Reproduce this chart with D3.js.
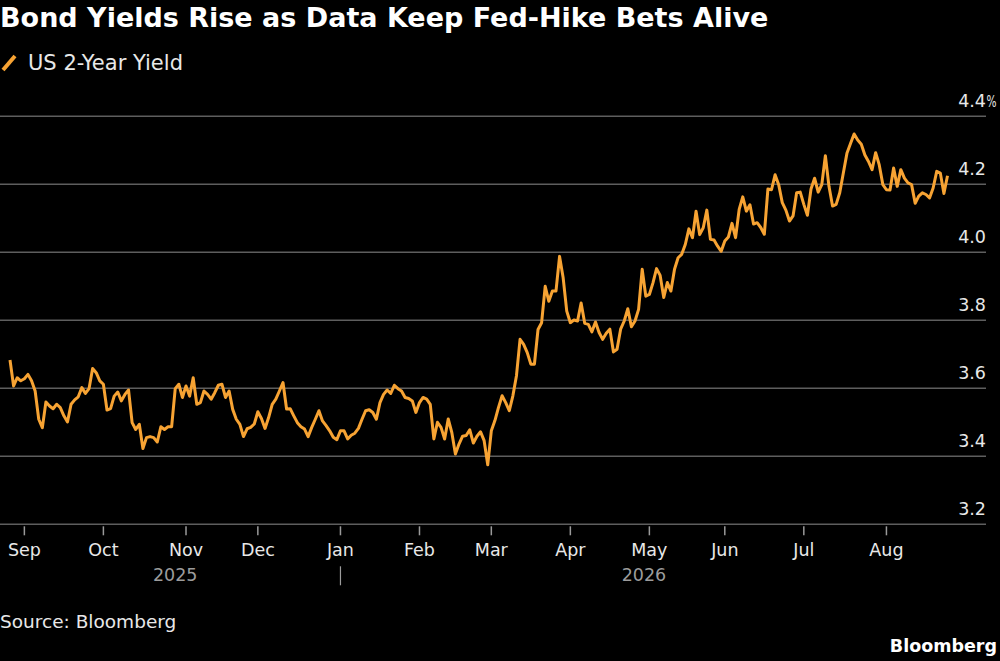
<!DOCTYPE html>
<html>
<head>
<meta charset="utf-8">
<script src="https://cdn.jsdelivr.net/npm/d3@7"></script>
<style>
  body { margin: 0; background: #000; }
  text { font-family: "DejaVu Sans", sans-serif; }
</style>
</head>
<body>
<div id="chart"></div>
<script>
// Chart text
const title = "Bond Yields Rise as Data Keep Fed-Hike Bets Alive";
const seriesName = "US 2-Year Yield";
const source = "Source: Bloomberg";

// Date range of the series (one reading per business day)
const startDate = new Date(2025, 7, 26);
const endDate = new Date(2026, 7, 26);

// Y-axis ticks (percent)
const yTicks = [3.2, 3.4, 3.6, 3.8, 4.0, 4.2, 4.4];

// US 2-year yield
const yields = [
    3.683, 3.607, 3.631, 3.622, 3.628, 3.641, 3.622, 3.592, 3.509, 3.484,
    3.560, 3.548, 3.540, 3.553, 3.543, 3.519, 3.501, 3.553, 3.566, 3.575,
    3.602, 3.585, 3.599, 3.658, 3.646, 3.622, 3.612, 3.536, 3.540, 3.577,
    3.589, 3.563, 3.582, 3.595, 3.499, 3.479, 3.494, 3.423, 3.455, 3.458,
    3.455, 3.442, 3.487, 3.479, 3.487, 3.487, 3.599, 3.612, 3.573, 3.607,
    3.577, 3.631, 3.553, 3.558, 3.592, 3.582, 3.568, 3.587, 3.609, 3.612,
    3.573, 3.592, 3.538, 3.509, 3.494, 3.458, 3.481,
    3.485, 3.495, 3.531, 3.511, 3.482, 3.514, 3.553, 3.568, 3.592, 3.617,
    3.539, 3.540, 3.519, 3.499, 3.487, 3.480, 3.458, 3.485, 3.509, 3.534,
    3.504, 3.490, 3.475, 3.456, 3.449, 3.475, 3.475, 3.451, 3.462, 3.468,
    3.482, 3.509, 3.534, 3.537, 3.529, 3.509, 3.558, 3.582, 3.595, 3.585,
    3.609, 3.599, 3.592, 3.573, 3.570, 3.563, 3.529, 3.558,
    3.573, 3.568, 3.553, 3.451, 3.500, 3.485, 3.451, 3.510, 3.470, 3.407,
    3.436, 3.459, 3.461, 3.478, 3.439, 3.459, 3.472, 3.446, 3.375, 3.475,
    3.505, 3.544, 3.578, 3.558, 3.534, 3.578, 3.637, 3.744, 3.729, 3.705,
    3.671, 3.671, 3.773, 3.793, 3.900, 3.856, 3.886, 3.886, 3.988, 3.925,
    3.827, 3.793, 3.801, 3.798, 3.851,
    3.791, 3.788, 3.766, 3.795, 3.764, 3.744, 3.762, 3.774, 3.707, 3.715,
    3.774, 3.798, 3.834, 3.781, 3.798, 3.832, 3.950, 3.871, 3.876, 3.910,
    3.952, 3.932, 3.867, 3.911, 3.886, 3.950, 3.984, 3.994, 4.023, 4.069,
    4.043, 4.121, 4.052, 4.072, 4.124, 4.038, 4.036, 4.018, 4.003, 4.033,
    4.045, 4.085, 4.043, 4.126, 4.163, 4.121, 4.140,
    4.083, 4.087, 4.073, 4.053, 4.186, 4.184, 4.228, 4.199, 4.146, 4.124,
    4.092, 4.107, 4.175, 4.177, 4.141, 4.109, 4.186, 4.218, 4.177, 4.199,
    4.284, 4.194, 4.136, 4.141, 4.175, 4.233, 4.291, 4.320, 4.348, 4.330,
    4.318, 4.286, 4.267, 4.243, 4.293, 4.257, 4.199, 4.184, 4.183, 4.248,
    4.194, 4.243, 4.218, 4.204, 4.199, 4.144, 4.165, 4.175, 4.170, 4.160,
    4.189, 4.238, 4.233, 4.173, 4.225
];

// Business days between start and end, paired with the readings
const dates = d3.timeDay.range(startDate, d3.timeDay.offset(endDate, 1))
    .filter(d => d.getDay() !== 0 && d.getDay() !== 6);
const data = yields.map((v, i) => ({ index: i, date: dates[i], value: v }));

// Dimensions
let width = 1000, height = 661;
let margin = { top: 116, bottom: 137, left: 10, right: 52 };
const lineColor = "#f7a333";
const gridRight = 986;

// Create the SVG container
let svg = d3.select('#chart')
    .append('svg')
    .attr('width', width)
    .attr('height', height)
    .style('background', '#000');

// Scales: x runs over trading days, evenly spaced
const xScale = d3.scaleLinear()
    .domain([0, dates.length - 1])
    .range([margin.left, width - margin.right - 0.5]);

const yScale = d3.scaleLinear()
    .domain([3.2, 4.4])
    .range([height - margin.bottom + 0.3, margin.top + 0.3]);

// position of a calendar date = first trading day on or after it
const dateX = d => xScale(d3.bisectLeft(dates, d));

// Title
const titleText = svg.append('text')
    .attr('x', 0)
    .attr('y', 27)
    .attr('fill', '#fff')
    .style('font-size', '27px')
    .style('font-weight', 'bold')
    .text(title);
if (titleText.node().getComputedTextLength() > 770) {
    titleText.attr('textLength', 770).attr('lengthAdjust', 'spacingAndGlyphs');
}

// Legend
svg.append('line')
    .attr('x1', 3).attr('y1', 70)
    .attr('x2', 15).attr('y2', 56)
    .attr('stroke', lineColor)
    .attr('stroke-width', 4);

svg.append('text')
    .attr('x', 28)
    .attr('y', 70)
    .attr('fill', '#e8e8e8')
    .style('font-size', '21px')
    .text(seriesName);

// Horizontal grid lines and y labels
svg.append('g')
    .selectAll('line')
    .data(yTicks)
    .enter()
    .append('line')
    .attr('x1', 0)
    .attr('x2', gridRight)
    .attr('y1', d => yScale(d))
    .attr('y2', d => yScale(d))
    .attr('stroke', '#5e5e5e')
    .attr('stroke-width', 1.5);

svg.append('g')
    .selectAll('text')
    .data(yTicks)
    .enter()
    .append('text')
    .attr('x', gridRight)
    .attr('y', d => yScale(d) - 9.5)
    .attr('text-anchor', 'end')
    .attr('fill', '#e8e8e8')
    .style('font-size', '17.5px')
    .text(d => d3.format('.1f')(d));

// Percent sign on the top label
svg.append('text')
    .attr('x', gridRight + 0.5)
    .attr('y', yScale(d3.max(yTicks)) - 9.5)
    .attr('fill', '#e8e8e8')
    .style('font-size', '16px')
    .attr('textLength', 10)
    .attr('lengthAdjust', 'spacingAndGlyphs')
    .text('%');

// Month ticks and labels
const months = d3.timeMonth.range(d3.timeMonth.ceil(startDate), endDate);
const baseY = yScale(3.2);

svg.append('g')
    .selectAll('line')
    .data(months)
    .enter()
    .append('line')
    .attr('x1', d => dateX(d))
    .attr('x2', d => dateX(d))
    .attr('y1', baseY + 2)
    .attr('y2', baseY + 11)
    .attr('stroke', '#9a9a9a')
    .attr('stroke-width', 1.5);

svg.append('g')
    .selectAll('text')
    .data(months)
    .enter()
    .append('text')
    .attr('x', d => dateX(d))
    .attr('y', baseY + 32)
    .attr('text-anchor', 'middle')
    .attr('fill', '#e8e8e8')
    .style('font-size', '17.5px')
    .text(d => d3.timeFormat('%b')(d));

// Year labels centred on the visible part of each year
const newYear = new Date(2026, 0, 1);
const years = [
    { label: '2025', from: xScale(0), to: dateX(newYear) },
    { label: '2026', from: dateX(newYear), to: xScale(dates.length - 1) }
];

svg.append('g')
    .selectAll('text')
    .data(years)
    .enter()
    .append('text')
    .attr('x', d => (d.from + d.to) / 2)
    .attr('y', baseY + 57)
    .attr('text-anchor', 'middle')
    .attr('fill', '#9c9c9c')
    .style('font-size', '17.5px')
    .text(d => d.label);

svg.append('line')
    .attr('x1', dateX(newYear))
    .attr('x2', dateX(newYear))
    .attr('y1', baseY + 42)
    .attr('y2', baseY + 61)
    .attr('stroke', '#9c9c9c')
    .attr('stroke-width', 1.2);

// The yield line
let line = d3.line()
    .x(d => xScale(d.index))
    .y(d => yScale(d.value));

svg.append('path')
    .datum(data)
    .attr('d', line)
    .attr('fill', 'none')
    .attr('stroke', lineColor)
    .attr('stroke-width', 3)
    .attr('stroke-linejoin', 'round');

// Footer
svg.append('text')
    .attr('x', 0)
    .attr('y', 628)
    .attr('fill', '#e8e8e8')
    .style('font-size', '18.5px')
    .text(source);

svg.append('text')
    .attr('x', 997)
    .attr('y', 652)
    .attr('text-anchor', 'end')
    .attr('fill', '#fff')
    .style('font-size', '17.5px')
    .style('font-weight', 'bold')
    .text('Bloomberg');
</script>
</body>
</html>
